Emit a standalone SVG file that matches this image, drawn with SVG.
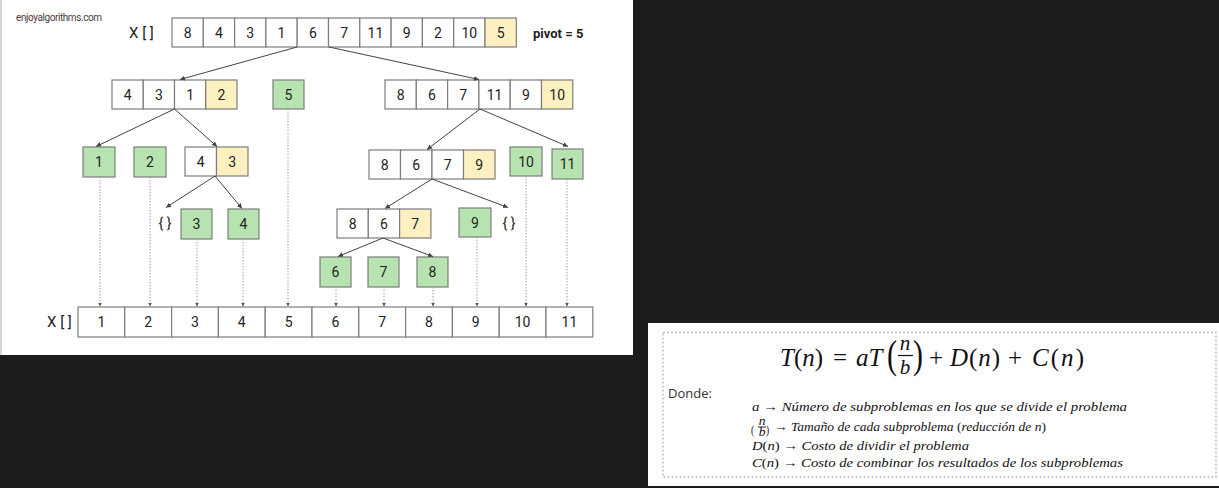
<svg xmlns="http://www.w3.org/2000/svg" width="1219" height="488" viewBox="0 0 1219 488">
<defs>
<marker id="ah" markerWidth="6" markerHeight="6" refX="5" refY="3" orient="auto" markerUnits="userSpaceOnUse"><path d="M0,0.5 L5,3 L0,5.5 z" fill="#444"/></marker>
<marker id="ad" markerWidth="5" markerHeight="5" refX="4" refY="2.5" orient="auto" markerUnits="userSpaceOnUse"><path d="M0,0.5 L4,2.5 L0,4.5 z" fill="#555"/></marker>
<style>
.c{fill:#fff;stroke:#7d7d7d;stroke-width:1.2}
.g{fill:#b7e3b0;stroke:#7d7d7d;stroke-width:1.2}
.y{fill:#fdf0c1;stroke:#7d7d7d;stroke-width:1.2}
.t{font-family:Roboto,"Liberation Sans",sans-serif;font-size:14px;fill:#222;text-anchor:middle}
.lbl{font-family:Roboto,"Liberation Sans",sans-serif;font-size:15px;fill:#222}
.ar{stroke:#444;stroke-width:1;fill:none;marker-end:url(#ah)}
.dt{stroke:#a0a0a0;stroke-width:1;stroke-dasharray:1.5,1.5;fill:none;marker-end:url(#ad)}
.m{font-family:"Liberation Serif","DejaVu Serif",serif;fill:#111}
.i{font-style:italic}
.d{font-family:"Liberation Serif","DejaVu Serif",serif;font-size:13.5px;fill:#111}
</style>
</defs>
<rect x="0" y="0" width="1219" height="488" fill="#1c1c1c"/>
<rect x="0" y="0" width="633" height="355" fill="#fff"/>
<line x1="1" y1="0" x2="1" y2="355" stroke="#c8c8c8" stroke-width="1.5"/>
<rect x="648" y="323" width="571" height="163" fill="#fff"/>
<rect x="663" y="332.5" width="553" height="144.5" fill="none" stroke="#bdbdbd" stroke-width="1.5" stroke-dasharray="2,2"/>

<text x="16" y="21" font-family="Roboto,'Liberation Sans',sans-serif" font-size="10" textLength="86" fill="#4a3c3c"><tspan fill="#5a3434">enjoy</tspan>algorithms.com</text>

<g id="top-array">
<text class="lbl" x="129" y="38">X [ ]</text>
<rect class="c" x="172" y="18" width="31.3" height="29"/><text class="t" x="187.65" y="38">8</text>
<rect class="c" x="203.3" y="18" width="31.3" height="29"/><text class="t" x="218.95" y="38">4</text>
<rect class="c" x="234.6" y="18" width="31.3" height="29"/><text class="t" x="250.25" y="38">3</text>
<rect class="c" x="265.9" y="18" width="31.3" height="29"/><text class="t" x="281.55" y="38">1</text>
<rect class="c" x="297.2" y="18" width="31.3" height="29"/><text class="t" x="312.85" y="38">6</text>
<rect class="c" x="328.5" y="18" width="31.3" height="29"/><text class="t" x="344.15" y="38">7</text>
<rect class="c" x="359.8" y="18" width="31.3" height="29"/><text class="t" x="375.45" y="38">11</text>
<rect class="c" x="391.1" y="18" width="31.3" height="29"/><text class="t" x="406.75" y="38">9</text>
<rect class="c" x="422.4" y="18" width="31.3" height="29"/><text class="t" x="438.05" y="38">2</text>
<rect class="c" x="453.7" y="18" width="31.3" height="29"/><text class="t" x="469.35" y="38">10</text>
<rect class="y" x="485" y="18" width="31.3" height="29"/><text class="t" x="500.65" y="38">5</text>
<text x="533" y="37.5" font-family="Roboto,'Liberation Sans',sans-serif" font-size="13" font-weight="bold" fill="#222">pivot = 5</text>
</g>

<g id="l2-left">
<rect class="c" x="112" y="80" width="31.25" height="29"/><text class="t" x="127.6" y="100">4</text>
<rect class="c" x="143.25" y="80" width="31.25" height="29"/><text class="t" x="158.9" y="100">3</text>
<rect class="c" x="174.5" y="80" width="31.25" height="29"/><text class="t" x="190.1" y="100">1</text>
<rect class="y" x="205.75" y="80" width="31.25" height="29"/><text class="t" x="221.4" y="100">2</text>
</g>
<g id="l2-pivot"><rect class="g" x="273" y="80" width="31" height="29"/><text class="t" x="288.5" y="100">5</text></g>
<g id="l2-right">
<rect class="c" x="385" y="80" width="31.3" height="29"/><text class="t" x="400.65" y="100">8</text>
<rect class="c" x="416.3" y="80" width="31.3" height="29"/><text class="t" x="431.95" y="100">6</text>
<rect class="c" x="447.6" y="80" width="31.3" height="29"/><text class="t" x="463.25" y="100">7</text>
<rect class="c" x="478.9" y="80" width="31.3" height="29"/><text class="t" x="494.55" y="100">11</text>
<rect class="c" x="510.2" y="80" width="31.3" height="29"/><text class="t" x="525.85" y="100">9</text>
<rect class="y" x="541.5" y="80" width="31.3" height="29"/><text class="t" x="557.15" y="100">10</text>
</g>

<g id="l3-1"><rect class="g" x="83" y="147" width="32" height="30"/><text class="t" x="99" y="167">1</text></g>
<g id="l3-2"><rect class="g" x="134" y="147" width="32" height="30"/><text class="t" x="150" y="167">2</text></g>
<g id="l3-43">
<rect class="c" x="185" y="147" width="31.5" height="29"/><text class="t" x="200.75" y="166.5">4</text>
<rect class="y" x="216.5" y="147" width="31.5" height="29"/><text class="t" x="232.25" y="166.5">3</text>
</g>
<g id="l3-8679">
<rect class="c" x="369" y="150" width="31.5" height="29"/><text class="t" x="384.75" y="169.5">8</text>
<rect class="c" x="400.5" y="150" width="31.5" height="29"/><text class="t" x="416.25" y="169.5">6</text>
<rect class="c" x="432" y="150" width="31.5" height="29"/><text class="t" x="447.75" y="169.5">7</text>
<rect class="y" x="463.5" y="150" width="31.5" height="29"/><text class="t" x="479.25" y="169.5">9</text>
</g>
<g id="l3-10"><rect class="g" x="510" y="147" width="32" height="29"/><text class="t" x="526" y="166.5">10</text></g>
<g id="l3-11"><rect class="g" x="552" y="149" width="31" height="30"/><text class="t" x="567.5" y="169">11</text></g>

<g id="l4-empty-left"><text class="t" x="165" y="228">{ }</text></g>
<g id="l4-3"><rect class="g" x="181" y="209" width="31" height="30"/><text class="t" x="196.5" y="229">3</text></g>
<g id="l4-4"><rect class="g" x="228" y="209" width="31" height="30"/><text class="t" x="243.5" y="229">4</text></g>
<g id="l4-867">
<rect class="c" x="337" y="209" width="31.3" height="29"/><text class="t" x="352.65" y="228.5">8</text>
<rect class="c" x="368.3" y="209" width="31.3" height="29"/><text class="t" x="383.95" y="228.5">6</text>
<rect class="y" x="399.6" y="209" width="31.3" height="29"/><text class="t" x="415.25" y="228.5">7</text>
</g>
<g id="l4-9"><rect class="g" x="459" y="208" width="32" height="29"/><text class="t" x="475" y="227.5">9</text></g>
<g id="l4-empty-right"><text class="t" x="509" y="228">{ }</text></g>

<g id="l5-6"><rect class="g" x="320" y="257" width="31" height="30"/><text class="t" x="335.5" y="277">6</text></g>
<g id="l5-7"><rect class="g" x="368" y="257" width="31" height="30"/><text class="t" x="383.5" y="277">7</text></g>
<g id="l5-8"><rect class="g" x="417" y="257" width="31" height="30"/><text class="t" x="432.5" y="277">8</text></g>

<g id="bottom-array">
<text class="lbl" x="47" y="327">X [ ]</text>
<rect class="c" x="78" y="307" width="46.8" height="30"/><text class="t" x="101.4" y="327">1</text>
<rect class="c" x="124.8" y="307" width="46.8" height="30"/><text class="t" x="148.2" y="327">2</text>
<rect class="c" x="171.6" y="307" width="46.8" height="30"/><text class="t" x="195" y="327">3</text>
<rect class="c" x="218.4" y="307" width="46.8" height="30"/><text class="t" x="241.8" y="327">4</text>
<rect class="c" x="265.2" y="307" width="46.8" height="30"/><text class="t" x="288.6" y="327">5</text>
<rect class="c" x="312" y="307" width="46.8" height="30"/><text class="t" x="335.4" y="327">6</text>
<rect class="c" x="358.8" y="307" width="46.8" height="30"/><text class="t" x="382.2" y="327">7</text>
<rect class="c" x="405.6" y="307" width="46.8" height="30"/><text class="t" x="429" y="327">8</text>
<rect class="c" x="452.4" y="307" width="46.8" height="30"/><text class="t" x="475.8" y="327">9</text>
<rect class="c" x="499.2" y="307" width="46.8" height="30"/><text class="t" x="522.6" y="327">10</text>
<rect class="c" x="546" y="307" width="46.8" height="30"/><text class="t" x="569.4" y="327">11</text>
</g>

<g id="connectors">
<line class="ar" x1="297" y1="47" x2="180" y2="79.5"/>
<line class="ar" x1="329" y1="47" x2="479" y2="79.5"/>
<line class="ar" x1="174.5" y1="109" x2="96" y2="146.5"/>
<line class="ar" x1="174.5" y1="109" x2="217" y2="146.5"/>
<line class="ar" x1="480" y1="109" x2="427" y2="149.5"/>
<line class="ar" x1="480" y1="109" x2="568" y2="146.5"/>
<line class="ar" x1="215" y1="176" x2="166" y2="207.5"/>
<line class="ar" x1="215" y1="176" x2="242" y2="208.5"/>
<line class="ar" x1="432" y1="179" x2="385" y2="208.5"/>
<line class="ar" x1="432" y1="179" x2="508" y2="207.5"/>
<line class="ar" x1="383" y1="238" x2="338" y2="256.5"/>
<line class="ar" x1="383" y1="238" x2="433" y2="256.5"/>
<line class="dt" x1="100" y1="177" x2="100" y2="306.5"/>
<line class="dt" x1="150" y1="177" x2="150" y2="306.5"/>
<line class="dt" x1="197" y1="239" x2="197" y2="306.5"/>
<line class="dt" x1="243" y1="239" x2="243" y2="306.5"/>
<line class="dt" x1="288" y1="109" x2="288" y2="306.5"/>
<line class="dt" x1="336" y1="287" x2="336" y2="306.5"/>
<line class="dt" x1="384" y1="287" x2="384" y2="306.5"/>
<line class="dt" x1="433" y1="287" x2="433" y2="306.5"/>
<line class="dt" x1="477" y1="237" x2="477" y2="306.5"/>
<line class="dt" x1="526" y1="176" x2="526" y2="306.5"/>
<line class="dt" x1="567" y1="179" x2="567" y2="306.5"/>
</g>

<g id="formula">
<text class="m" font-size="25" y="366"><tspan x="780" class="i">T</tspan>(<tspan class="i">n</tspan>)</text>
<text class="m" font-size="25" x="833" y="366">=</text>
<text class="m i" font-size="25" x="856" y="366">aT</text>
<text class="m" font-size="40" x="887" y="368" transform="translate(887 0) scale(0.75 1) translate(-887 0)">(</text>
<text class="m i" font-size="21" x="905" y="350" text-anchor="middle">n</text>
<line x1="898" y1="355.5" x2="913" y2="355.5" stroke="#111" stroke-width="1.2"/>
<text class="m i" font-size="21" x="905" y="374" text-anchor="middle">b</text>
<text class="m" font-size="40" x="913" y="368" transform="translate(913 0) scale(0.75 1) translate(-913 0)">)</text>
<text class="m" font-size="25" x="929" y="366">+</text>
<text class="m" font-size="25" y="366" textLength="50"><tspan x="950" class="i">D</tspan>(<tspan class="i">n</tspan>)</text>
<text class="m" font-size="25" x="1008" y="366">+</text>
<text class="m" font-size="25" y="366" textLength="52"><tspan x="1032" class="i">C</tspan>(<tspan class="i">n</tspan>)</text>
</g>

<g id="definitions">
<text x="668" y="398" font-family="'Open Sans','Liberation Sans',sans-serif" font-size="13" fill="#333">Donde:</text>
<text class="d" x="752" y="411" textLength="375" lengthAdjust="spacingAndGlyphs"><tspan class="i">a</tspan> → <tspan class="i">Número de subproblemas en los que se divide el problema</tspan></text>
<text class="d" font-size="18" x="751" y="434" transform="translate(751 0) scale(0.7 1) translate(-751 0)">(</text>
<text class="d i" font-size="9" x="762" y="424.5" text-anchor="middle">n</text>
<line x1="758" y1="427" x2="766" y2="427" stroke="#111" stroke-width="0.9"/>
<text class="d i" font-size="9" x="762" y="435.5" text-anchor="middle">b</text>
<text class="d" font-size="18" x="766" y="434" transform="translate(766 0) scale(0.7 1) translate(-766 0)">)</text>
<text class="d" x="774" y="431" textLength="272" lengthAdjust="spacingAndGlyphs">→ <tspan class="i">Tamaño de cada subproblema</tspan> (<tspan class="i">reducción de n</tspan>)</text>
<text class="d" x="752" y="450" textLength="217" lengthAdjust="spacingAndGlyphs"><tspan class="i">D</tspan>(<tspan class="i">n</tspan>) → <tspan class="i">Costo de dividir el problema</tspan></text>
<text class="d" x="752" y="466.5" textLength="371" lengthAdjust="spacingAndGlyphs"><tspan class="i">C</tspan>(<tspan class="i">n</tspan>) → <tspan class="i">Costo de combinar los resultados de los subproblemas</tspan></text>
</g>
</svg>
